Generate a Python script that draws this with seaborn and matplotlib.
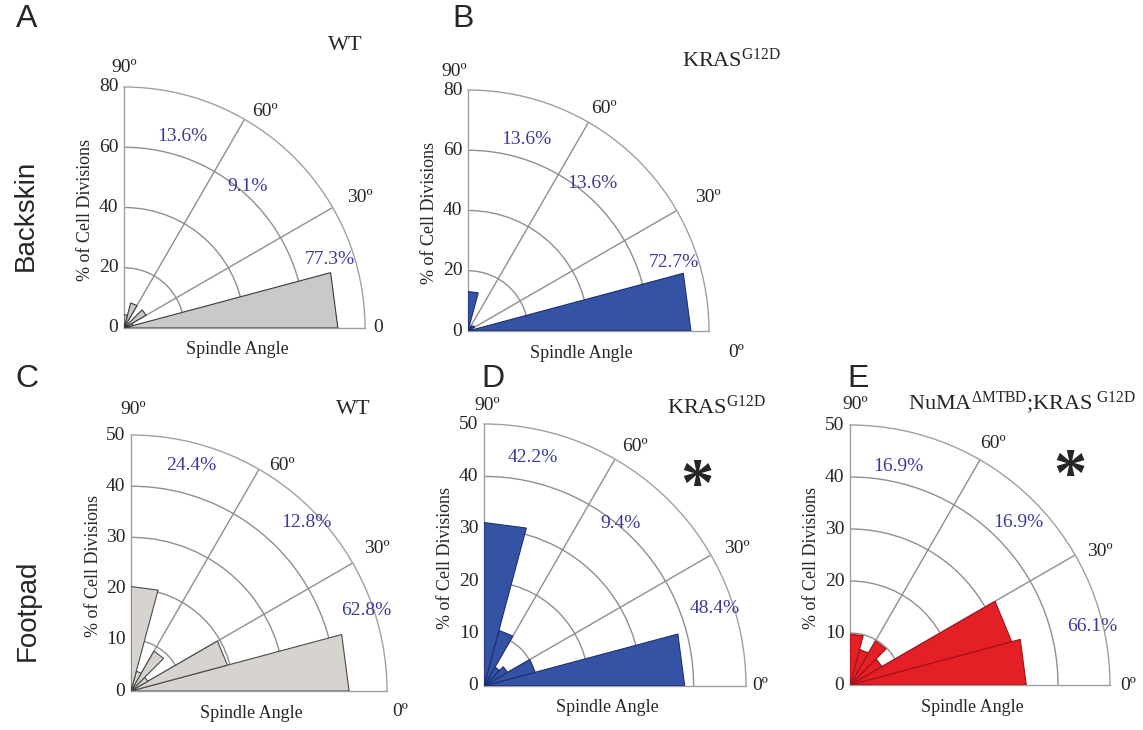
import numpy as np
import matplotlib
matplotlib.use("Agg")
import matplotlib.pyplot as plt
import seaborn as sns

# Spindle angle bins (degrees) and % of cell divisions per bin
bin_edges = [0, 15, 30, 45, 60, 75, 90]
wt_backskin = [71.0, 3.0, 8.5, 0.6, 8.6, 4.4]
kras_backskin = [74.0, 0.0, 2.5, 2.0, 0.5, 13.1]
wt_footpad = [42.6, 19.5, 3.8, 9.0, 4.0, 20.4]
kras_footpad = [38.3, 10.1, 5.2, 4.2, 11.0, 31.2]
numa_kras_footpad = [33.9, 32.2, 7.1, 9.8, 7.1, 9.8]

# Percent of divisions in the 0-30, 30-60, 60-90 sectors
wt_backskin_pct = [77.3, 9.1, 13.6]
kras_backskin_pct = [72.7, 13.6, 13.6]
wt_footpad_pct = [62.8, 12.8, 24.4]
kras_footpad_pct = [48.4, 9.4, 42.2]
numa_kras_footpad_pct = [66.1, 16.9, 16.9]

backskin_ticks = [0, 20, 40, 60, 80]
footpad_ticks = [0, 10, 20, 30, 40, 50]

W, H = 1143, 730

sns.set_theme(style="white")
plt.rcParams["font.family"] = ["Liberation Serif", "DejaVu Serif"]
plt.rcParams["mathtext.fontset"] = "custom"
plt.rcParams["mathtext.rm"] = "Liberation Serif"
plt.rcParams["mathtext.it"] = "Liberation Serif:italic"

GRID = "#8f8f8f"
PCT = "#3b3b9c"


def px(x, y):
    return x / W, 1 - y / H


def rose(fig, origin, R, values, pcts, ticks, color, edge, title, title_xy,
         pct_pos, ang_pos, zero_label="0º", star=None):
    rmax = ticks[-1]
    x0, y0 = origin
    ax = fig.add_axes([x0 / W, 1 - y0 / H, R / W, R / H], projection="polar")
    ax.set_thetamin(0)
    ax.set_thetamax(90)
    ax.set_ylim(0, rmax)
    ax.set_rgrids(ticks[1:-1], labels=[""] * (len(ticks) - 2))
    ax.set_thetagrids([30, 60], labels=["", ""])
    ax.grid(True, color=GRID, lw=1.0)
    for s in ax.spines.values():
        s.set_color("#a0a0a0")
        s.set_linewidth(1.0)
    ax.set_facecolor("white")

    # triangular wedges like a classic rose plot
    for lo, hi, v in zip(bin_edges[:-1], bin_edges[1:], values):
        if v <= 0:
            continue
        ax.fill(np.deg2rad([lo, lo, hi]), [0, v, v], facecolor=color,
                edgecolor=edge, lw=0.8, zorder=3)

    # radial tick labels left of the vertical axis
    for t in ticks:
        ax.annotate(str(t), xy=(np.pi / 2, t), xytext=(-4, 0),
                    textcoords="offset points", ha="right", va="center",
                    fontsize=14, annotation_clip=False)

    # angle labels
    for (ang, fr), lab in zip(ang_pos, ["90º", "60º", "30º", zero_label]):
        ax.text(np.deg2rad(ang), rmax * fr, lab, ha="center", va="center",
                fontsize=14, clip_on=False)

    # sector percentages
    for (ang, fr), p in zip(pct_pos, pcts):
        ax.text(np.deg2rad(ang), rmax * fr, f"{p:.1f}%", ha="center",
                va="center", color=PCT, fontsize=14, clip_on=False)

    fig.text(*px(x0 + 0.47 * R, y0 + 22), "Spindle Angle", ha="center",
             va="center", fontsize=13)
    fig.text(*px(x0 - 38, y0 - 0.49 * R), "% of Cell Divisions",
             rotation=90, ha="center", va="center", fontsize=13)
    fig.text(*px(*title_xy), title, ha="center", va="center", fontsize=16)
    if star is not None:
        fig.text(*px(*star), "*", ha="center", va="center", fontsize=48,
                 fontweight="bold")
    return ax


fig = plt.figure(figsize=(W / 100, H / 100), dpi=100)

kras = r"KRAS$^{\mathrm{G12D}}$"

rose(fig, (124, 328), 241, wt_backskin, wt_backskin_pct, backskin_ticks,
     "#c9c9c9", "#3a3a3a", "WT", (345, 45),
     [(18.5, 0.90), (49, 0.78), (73, 0.83)],
     [(90, 1.08), (57, 1.07), (29, 1.12), (0, 1.055)], zero_label="0")
rose(fig, (468, 331), 241, kras_backskin, kras_backskin_pct, backskin_ticks,
     "#3553a5", "#1d2f70", kras, (731, 60),
     [(18.5, 0.90), (50, 0.80), (73, 0.83)],
     [(93, 1.08), (58.6, 1.08), (29, 1.14), (-4.5, 1.115)])
rose(fig, (131, 691), 256, wt_footpad, wt_footpad_pct, footpad_ticks,
     "#d7d4cf", "#4a4a4a", "WT", (353, 410),
     [(19, 0.97), (44, 0.95), (75, 0.91)],
     [(89.6, 1.10), (56.3, 1.06), (30, 1.11), (-4.3, 1.055)])
rose(fig, (484, 686), 262, kras_footpad, kras_footpad_pct, footpad_ticks,
     "#3553a5", "#1d2f70", kras, (716, 407),
     [(18.5, 0.93), (50, 0.81), (78, 0.89)],
     [(89.4, 1.07), (57.7, 1.08), (28.5, 1.10), (0, 1.055)],
     star=(697, 487))
rose(fig, (850, 685), 260, numa_kras_footpad, numa_kras_footpad_pct,
     footpad_ticks, "#e41f26", "#a01218",
     r"NuMA$^{\Delta\mathrm{MTBD}}$;KRAS$^{\ \mathrm{G12D}}$", (1022, 403),
     [(13.5, 0.96), (44, 0.90), (77.5, 0.86)],
     [(89, 1.08), (59.4, 1.08), (28, 1.09), (0, 1.07)],
     star=(1070, 478))

# panel letters and row labels
sans = ["Liberation Sans", "DejaVu Sans"]
for lab, x, y in [("A", 27, 19), ("B", 463, 19), ("C", 27, 379),
                  ("D", 493, 379), ("E", 858, 379)]:
    fig.text(*px(x, y), lab, ha="center", va="center", fontsize=23,
             family=sans)
fig.text(*px(26, 215), "Backskin", rotation=90, ha="center", va="center",
         fontsize=20, family=sans)
fig.text(*px(28, 610), "Footpad", rotation=90, ha="center", va="center",
         fontsize=20, family=sans)

fig.savefig("out.png", dpi=100, facecolor="white")
